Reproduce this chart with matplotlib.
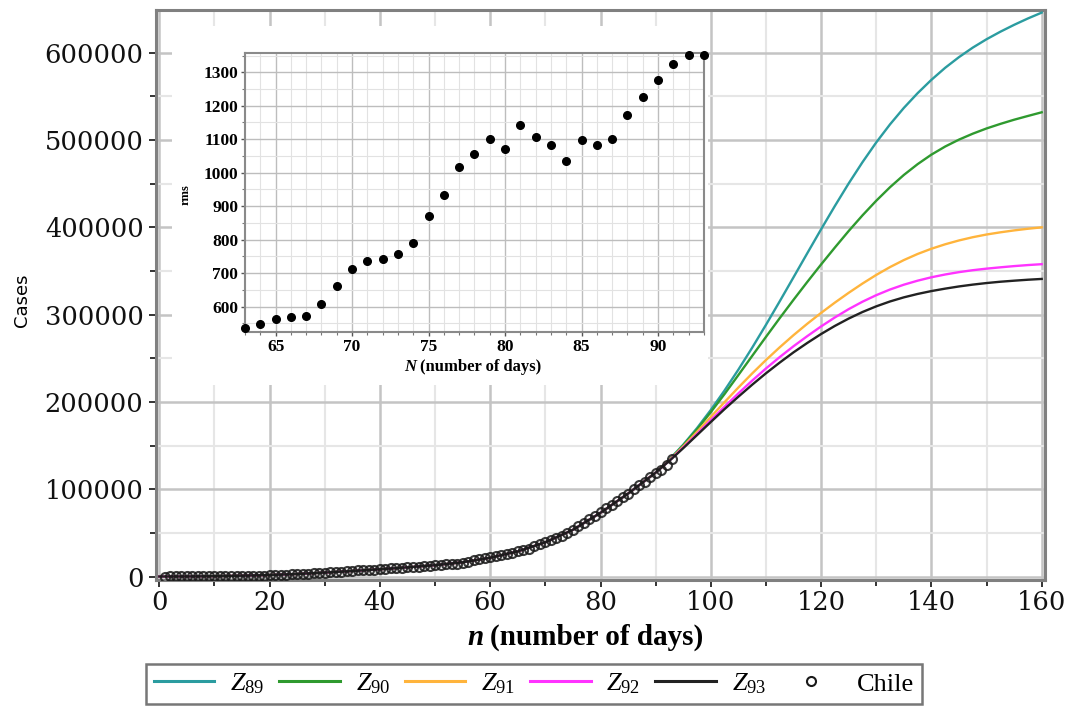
import numpy as np
import matplotlib
matplotlib.use("Agg")
import matplotlib.pyplot as plt
from matplotlib.ticker import MultipleLocator

plt.rcParams['mathtext.fontset'] = 'custom'
plt.rcParams['mathtext.rm'] = 'Liberation Serif'
plt.rcParams['mathtext.it'] = 'Liberation Serif:italic'

# Chile cumulative cases, day 1..93
chile_days = list(range(1, 94))
chile_cases = [7, 10, 13, 17, 23, 33, 43, 61, 75, 156,
               201, 238, 342, 434, 537, 632, 746, 922, 1142, 1306,
               1610, 1909, 2139, 2449, 2738, 3031, 3404, 3737, 4161, 4471,
               4815, 5116, 5546, 5972, 6501, 6927, 7213, 7525, 7917, 8273,
               8807, 9252, 9730, 10088, 10507, 10832, 11296, 11812, 12306, 12858,
               13331, 13813, 14365, 14885, 16023, 17008, 18435, 19663, 20643, 22016,
               23048, 24581, 25972, 27219, 28866, 30063, 31721, 34381, 37040, 39542,
               41428, 43781, 46059, 49579, 53617, 57581, 61857, 65393, 69102, 73997,
               77961, 82289, 86943, 90638, 94858, 99688, 105159, 108686, 113628, 118292,
               122499, 127745, 134150]

# model curves (thousands of cases): days 0..85 every 5, then 90..160 every 2.5
z_days = list(range(0, 90, 5)) + [90 + 2.5 * i for i in range(29)]
z_early = [0, 0.1, 0.4, 0.9, 1.7, 2.9, 4.5, 6.3, 8.3, 10.5,
           13.0, 16.3, 21.5, 28.8, 39.2, 53.5, 73.0, 95.0]
z89_k = z_early + [119, 134, 151, 170, 190.8, 213.2, 237, 262.1, 288.3, 315.3,
                   342.8, 370.4, 397.8, 424.5, 450.3, 474.6, 497.3, 518, 536.8, 553.7,
                   569, 582.8, 595, 605.9, 615.5, 624.1, 632, 639.3, 646]
z90_k = z_early + [119, 133.7, 150.3, 168.5, 188.3, 209.1, 230.8, 252.7, 274.5, 296,
                   317, 337.5, 357.5, 376.9, 395.8, 413.7, 430.5, 446, 460, 472.4,
                   483.3, 492.6, 500.5, 507.3, 513.3, 518.5, 523.3, 527.6, 531.8]
z91_k = z_early + [119, 133.3, 149, 165.7, 182.8, 199.8, 216.5, 232.6, 248, 262.6,
                   276.5, 289.6, 302, 313.8, 325, 335.6, 345.5, 354.5, 362.5, 369.5,
                   375.5, 380.6, 385, 388.7, 391.8, 394.3, 396.5, 398.4, 400]
z92_k = z_early + [119, 132.8, 147.8, 163.3, 179, 194.6, 209.8, 224.4, 238.3, 251.4,
                   263.8, 275.4, 286.5, 296.8, 306.3, 314.8, 322.3, 328.8, 334.3, 338.9,
                   342.8, 346, 348.7, 350.9, 352.7, 354.2, 355.6, 356.8, 357.8]
z93_k = z_early + [119, 132.5, 147, 162, 177, 191.8, 206, 219.7, 232.8, 245.1,
                   256.8, 267.6, 277.8, 287.1, 295.5, 303, 309.5, 315.1, 319.8, 323.7,
                   327, 329.8, 332.3, 334.4, 336.2, 337.7, 338.9, 340, 340.9]

z_labels = [r'$Z_{89}$', r'$Z_{90}$', r'$Z_{91}$', r'$Z_{92}$', r'$Z_{93}$']
z_colors = ['#2b9ca0', '#2f9a2f', '#ffb43c', '#ff33ff', '#222222']

# rms inset
rms_days = list(range(63, 94))
rms_vals = [535, 547, 562, 568, 571, 607, 663, 712, 737, 741,
            758, 791, 872, 933, 1018, 1056, 1102, 1071, 1142, 1107,
            1082, 1035, 1099, 1083, 1101, 1173, 1226, 1276, 1326, 1353, 1353]

W, H = 1070, 709
fig = plt.figure(figsize=(W / 100, H / 100), dpi=100)
ax = fig.add_axes([156 / W, 1 - 580 / H, 889 / W, 570 / H])

for ys, lab, col in zip([z89_k, z90_k, z91_k, z92_k, z93_k], z_labels, z_colors):
    ax.plot(z_days, np.array(ys) * 1000, color=col, lw=1.7, label=lab, zorder=3)
ax.plot(chile_days, chile_cases, ls='none', marker='o', ms=6.5, mfc='none',
        mec='#1a1a1a', mew=1.5, alpha=0.85, label='Chile', zorder=4)

ax.set_xlim(-0.6, 160.6)
ax.set_ylim(-4000, 649000)
ax.xaxis.set_major_locator(MultipleLocator(20))
ax.xaxis.set_minor_locator(MultipleLocator(10))
ax.yaxis.set_major_locator(MultipleLocator(100000))
ax.yaxis.set_minor_locator(MultipleLocator(50000))
ax.grid(which='major', color='#c4c4c4', lw=1.8)
ax.grid(which='minor', color='#e6e6e6', lw=1.5)
ax.set_axisbelow(True)
for s in ax.spines.values():
    s.set_color('#808080')
    s.set_linewidth(2.2)
ax.tick_params(which='major', direction='out', length=5, width=1.4, color='#333333',
               pad=2, labelsize=18.5, labelcolor='#111111')
ax.tick_params(axis='y', which='major', pad=4)
ax.tick_params(which='minor', direction='out', length=4, width=1.4, color='#333333')
for t in ax.get_xticklabels() + ax.get_yticklabels():
    t.set_family('DejaVu Serif')

fig.text(22 / W, 1 - 300 / H, 'Cases', rotation=90, ha='center', va='center',
         family='DejaVu Sans', fontsize=13)

leg = fig.legend(loc='center', bbox_to_anchor=(534 / W, 1 - 684 / H), ncol=6,
                 frameon=True, fancybox=False, handlelength=2.3,
                 handletextpad=0.6, columnspacing=0.55, borderpad=0.3,
                 prop={'family': 'Liberation Serif', 'size': 19})
leg.get_frame().set_edgecolor('#555555')
leg.get_frame().set_linewidth(1.8)
for lh in leg.get_lines():
    lh.set_linewidth(2.2)
    lh.set_alpha(1)

# white background behind inset (covers main grid)
bg = fig.add_axes([172 / W, 1 - 385 / H, 536 / W, 359 / H])
bg.set_facecolor('white')
bg.set_xticks([])
bg.set_yticks([])
for s in bg.spines.values():
    s.set_visible(False)

ins = fig.add_axes([245 / W, 1 - 332 / H, 459 / W, 279 / H])
ins.plot(rms_days, rms_vals, ls='none', marker='o', ms=5.5, color='black',
         clip_on=False, zorder=3)
ins.set_xlim(63, 93)
ins.set_ylim(524.5, 1357.5)
ins.xaxis.set_major_locator(MultipleLocator(5))
ins.xaxis.set_minor_locator(MultipleLocator(1))
ins.yaxis.set_major_locator(MultipleLocator(100))
ins.yaxis.set_minor_locator(MultipleLocator(50))
ins.grid(which='major', color='#bdbdbd', lw=1.0)
ins.grid(which='minor', color='#e2e2e2', lw=0.8)
ins.set_axisbelow(True)
for s in ins.spines.values():
    s.set_color('#8a8a8a')
    s.set_linewidth(1.5)
ins.tick_params(which='major', direction='out', length=3, width=1, color='#555555',
                pad=2, labelsize=12.5)
ins.tick_params(which='minor', direction='out', length=2, width=0.8, color='#777777')
for t in ins.get_xticklabels() + ins.get_yticklabels():
    t.set_family('Liberation Serif')
    t.set_weight('bold')

fig.text(186 / W, 1 - 195 / H, 'rms', rotation=90, ha='center', va='center',
         family='Liberation Serif', weight='bold', fontsize=9)

# axis titles with italic variable names
lbl_main = fig.text(597 / W, 1 - 645 / H, '(number of days)', ha='center', va='baseline',
                    family='Liberation Serif', weight='bold', fontsize=21)
lbl_ins = fig.text(481 / W, 1 - 371 / H, '(number of days)', ha='center', va='baseline',
                   family='Liberation Serif', weight='bold', fontsize=12)
fig.canvas.draw()
bb = lbl_main.get_window_extent()
fig.text((bb.x0 - 7) / W, 1 - 645 / H, 'n', ha='right', va='baseline',
         family='Liberation Serif', weight='bold', style='italic', fontsize=21)
bb = lbl_ins.get_window_extent()
fig.text((bb.x0 - 4) / W, 1 - 371 / H, 'N', ha='right', va='baseline',
         family='Liberation Serif', weight='bold', style='italic', fontsize=12)

fig.savefig('out.png', dpi=100)
